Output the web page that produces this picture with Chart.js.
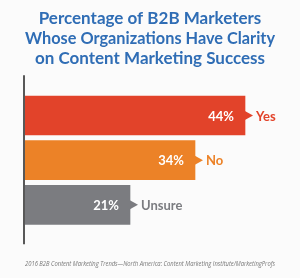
<!DOCTYPE html>
<html><head><meta charset="utf-8">
<script src="https://cdn.jsdelivr.net/npm/chart.js@4"></script>
<style>html,body{margin:0;padding:0;background:#fbfbfb}#wrap{width:300px;height:278px}</style>
</head><body><div id="wrap"><canvas id="c" width="300" height="278"></canvas></div>
<script>
const categories = ['Yes', 'No', 'Unsure'];
const values = [44, 34, 21];
const barColors = ['#e2432a', '#ec8227', '#7b7c80'];
const titleLines = ['Percentage of B2B Marketers', 'Whose Organizations Have Clarity', 'on Content Marketing Success'];
const sourceText = '2016 B2B Content Marketing Trends\u2014North America: Content Marketing Institute/MarketingProfs';

const deco = {
  id: 'deco',
  afterDatasetsDraw(chart) {
    const ctx = chart.ctx, area = chart.chartArea;
    ctx.save();
    ctx.strokeStyle = '#222';
    ctx.lineWidth = 1.5;
    ctx.beginPath();
    ctx.moveTo(area.left - 1, area.top - 18);
    ctx.lineTo(area.left - 1, area.bottom + 17);
    ctx.stroke();
    const meta = chart.getDatasetMeta(0);
    meta.data.forEach((bar, i) => {
      const col = barColors[i];
      const x = bar.x, y = bar.y;
      ctx.fillStyle = col;
      ctx.beginPath();
      ctx.moveTo(x - 1, y - 5);
      ctx.lineTo(x + 8, y);
      ctx.lineTo(x - 1, y + 5);
      ctx.closePath();
      ctx.fill();
      ctx.font = 'bold 13px Lato, "Open Sans", sans-serif';
      ctx.textBaseline = 'middle';
      ctx.fillStyle = '#ffffff';
      ctx.textAlign = 'right';
      ctx.fillText(values[i] + '%', x - 11, y + 1);
      ctx.fillStyle = col;
      ctx.textAlign = 'left';
      ctx.fillText(categories[i], x + 11, y + 1);
    });
    ctx.restore();
  }
};

new Chart(document.getElementById('c'), {
  type: 'bar',
  data: {
    labels: categories,
    datasets: [{ data: values, backgroundColor: barColors, borderWidth: 0, barThickness: 39 }]
  },
  options: {
    indexAxis: 'y',
    responsive: false,
    animation: false,
    devicePixelRatio: 1,
    layout: { padding: { left: 25, right: 25 } },
    scales: {
      x: { display: false, min: 0, max: 50 },
      y: { display: false }
    },
    plugins: {
      legend: { display: false },
      tooltip: { enabled: false },
      title: {
        display: true,
        text: titleLines,
        color: '#2f6db5',
        font: { family: 'Lato, "Open Sans", sans-serif', size: 17, weight: 'bold', lineHeight: 1.2 },
        padding: { top: 8, bottom: 24 }
      },
      subtitle: {
        display: true,
        position: 'bottom',
        text: sourceText,
        color: '#777',
        font: { family: '"Open Sans", sans-serif', size: 6.5, style: 'italic' },
        padding: { top: 33, bottom: 10 }
      }
    }
  },
  plugins: [deco]
});
</script>
</body></html>
